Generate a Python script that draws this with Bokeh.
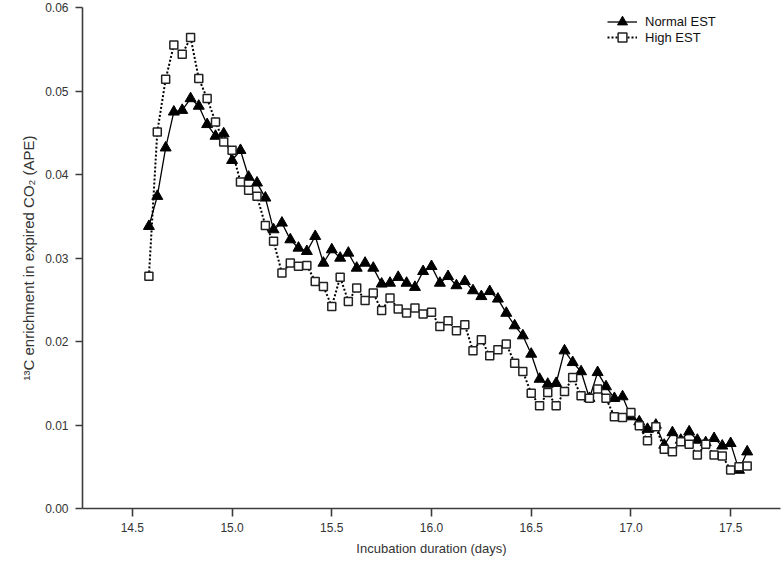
from bokeh.plotting import figure
from bokeh.models import Range1d, Legend, LegendItem, FixedTicker
from bokeh.embed import file_html
from bokeh.resources import INLINE

# ---- data ----
days = [14.583, 14.625, 14.667, 14.708, 14.750, 14.792, 14.833, 14.875, 14.917, 14.958,
        15.000, 15.042, 15.083, 15.125, 15.167, 15.208, 15.250, 15.292, 15.333, 15.375,
        15.417, 15.458, 15.500, 15.542, 15.583, 15.625, 15.667, 15.708, 15.750, 15.792,
        15.833, 15.875, 15.917, 15.958, 16.000, 16.042, 16.083, 16.125, 16.167, 16.208,
        16.250, 16.292, 16.333, 16.375, 16.417, 16.458, 16.500, 16.542, 16.583, 16.625,
        16.667, 16.708, 16.750, 16.792, 16.833, 16.875, 16.917, 16.958, 17.000, 17.042,
        17.083, 17.125, 17.167, 17.208, 17.250, 17.292, 17.333, 17.375, 17.417, 17.458,
        17.500, 17.542, 17.583]

normal_est = [0.0338, 0.0374, 0.0432, 0.0475, 0.0477, 0.0491, 0.0482, 0.0460, 0.0446, 0.0449,
              0.0417, 0.0429, 0.0397, 0.0390, 0.0372, 0.0334, 0.0342, 0.0322, 0.0312, 0.0308,
              0.0326, 0.0294, 0.0310, 0.0300, 0.0306, 0.0288, 0.0294, 0.0288, 0.0269, 0.0270,
              0.0277, 0.0270, 0.0265, 0.0284, 0.0290, 0.0270, 0.0278, 0.0267, 0.0272, 0.0261,
              0.0254, 0.0260, 0.0251, 0.0234, 0.0219, 0.0207, 0.0185, 0.0155, 0.0149, 0.0150,
              0.0189, 0.0175, 0.0164, 0.0132, 0.0163, 0.0146, 0.0132, 0.0134, 0.0110, 0.0104,
              0.0095, 0.0100, 0.0076, 0.0091, 0.0082, 0.0092, 0.0082, 0.0079, 0.0084, 0.0075,
              0.0078, 0.0046, 0.0068]

high_est = [0.0278, 0.0451, 0.0514, 0.0555, 0.0544, 0.0564, 0.0515, 0.0491, 0.0463, 0.0439,
            0.0429, 0.0391, 0.0381, 0.0374, 0.0339, 0.0320, 0.0282, 0.0294, 0.0290, 0.0291,
            0.0272, 0.0266, 0.0242, 0.0277, 0.0248, 0.0264, 0.0249, 0.0258, 0.0237, 0.0252,
            0.0239, 0.0234, 0.0240, 0.0233, 0.0235, 0.0218, 0.0225, 0.0213, 0.0220, 0.0189,
            0.0202, 0.0183, 0.0190, 0.0197, 0.0174, 0.0164, 0.0138, 0.0123, 0.0139, 0.0123,
            0.0140, 0.0157, 0.0135, 0.0132, 0.0143, 0.0132, 0.0110, 0.0109, 0.0115, 0.0099,
            0.0081, 0.0098, 0.0071, 0.0068, 0.0080, 0.0077, 0.0064, 0.0077, 0.0064, 0.0063,
            0.0046, 0.0050, 0.0051]

xtick_values = [14.5, 15.0, 15.5, 16.0, 16.5, 17.0, 17.5]
xtick_labels = ["14.5", "15.0", "15.5", "16.0", "16.5", "17.0", "17.5"]
ytick_values = [0.0, 0.01, 0.02, 0.03, 0.04, 0.05, 0.06]
ytick_labels = ["0.00", "0.01", "0.02", "0.03", "0.04", "0.05", "0.06"]

FONT = "Liberation Sans"
AXC = "#3c3c3c"

p = figure(width=784, height=566, output_backend="svg", toolbar_location=None,
           x_range=Range1d(14.25, 17.75), y_range=Range1d(0.0, 0.06),
           min_border_left=82, min_border_right=4, min_border_top=7, min_border_bottom=58)
p.outline_line_color = None
p.grid.visible = False
p.background_fill_color = "white"

for ax in (p.xaxis[0], p.yaxis[0]):
    ax.axis_line_color = AXC
    ax.axis_line_width = 1.6
    ax.major_tick_line_color = AXC
    ax.major_tick_line_width = 1.6
    ax.minor_tick_line_color = None
    ax.major_tick_in = 0
    ax.major_label_text_font = FONT
    ax.major_label_text_font_size = "12px"
    ax.major_label_text_color = "#333333"
    ax.axis_label_text_font = FONT
    ax.axis_label_text_font_style = "normal"
    ax.axis_label_text_color = "#333333"

p.xaxis.ticker = FixedTicker(ticks=xtick_values)
p.xaxis.major_label_overrides = dict(zip(xtick_values, xtick_labels))
p.xaxis.major_tick_out = 8
p.xaxis.major_label_standoff = 6
p.xaxis.axis_label = "Incubation duration (days)"
p.xaxis.axis_label_text_font_size = "13px"
p.xaxis.axis_label_standoff = 6

p.yaxis.ticker = FixedTicker(ticks=ytick_values)
p.yaxis.major_label_overrides = dict(zip(ytick_values, ytick_labels))
p.yaxis.major_tick_out = 7
p.yaxis.major_label_standoff = 7
p.yaxis.axis_label = "\u00b9\u00b3C enrichment in expired CO\u2082 (APE)"
p.yaxis.axis_label_text_font_size = "15px"
p.yaxis.axis_label_standoff = 5

# series
l1 = p.line(days, normal_est, line_color="black", line_width=1.3)
s1 = p.scatter(days, normal_est, marker="triangle", size=11, fill_color="black",
               line_color="black", line_width=1)
l2 = p.line(days, high_est, line_color="black", line_width=2, line_dash="2 2")
s2 = p.scatter(days, high_est, marker="square", size=8, fill_color="white",
               line_color="#222222", line_width=1.5)

common = dict(padding=0, margin=0, spacing=0, glyph_width=30, label_height=16,
              label_standoff=8, label_text_font=FONT, label_text_font_size="13px",
              label_text_color="#111111", border_line_color=None,
              background_fill_alpha=0)
leg1 = Legend(items=[LegendItem(label="Normal EST", renderers=[l1, s1])],
              location=(525, 474), glyph_height=25, **common)
leg2 = Legend(items=[LegendItem(label="High EST", renderers=[l2, s2])],
              location=(525, 460), glyph_height=22, **common)
p.add_layout(leg1)
p.add_layout(leg2)

open("out.html", "w").write(file_html(p, INLINE))
